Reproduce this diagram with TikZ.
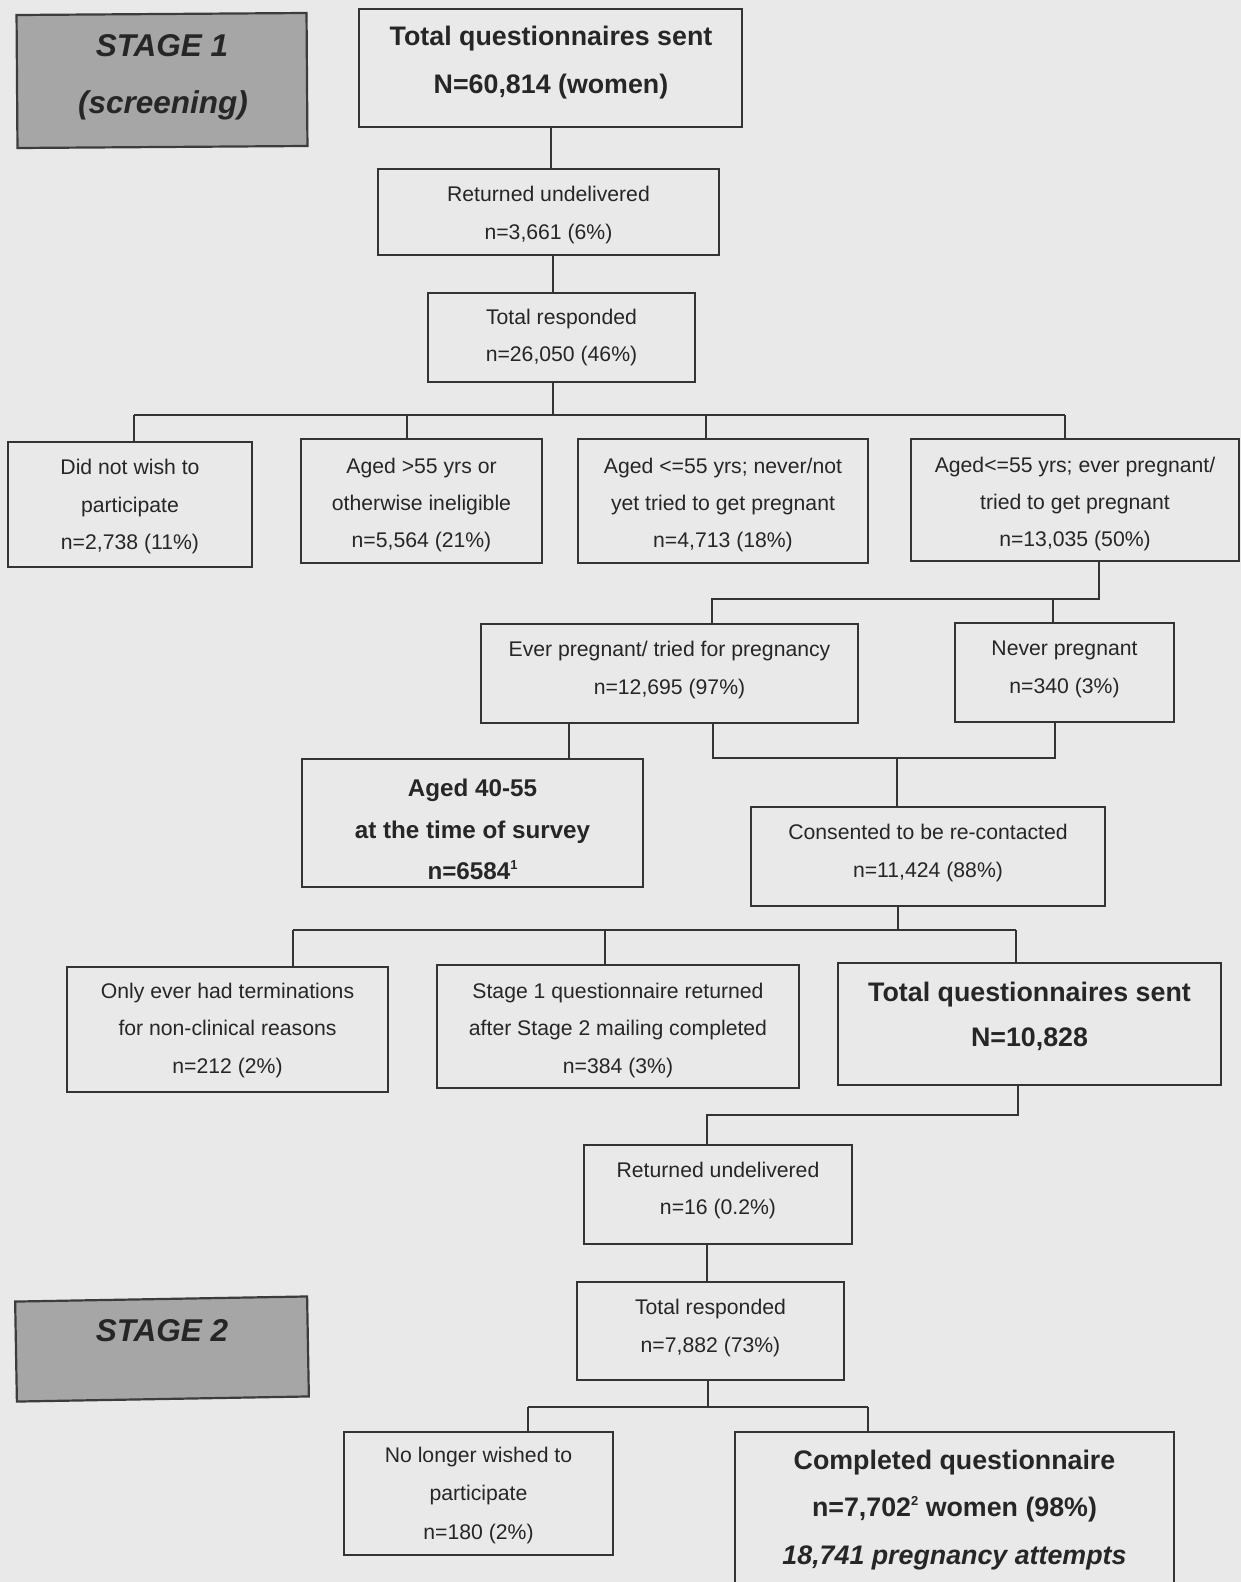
\documentclass[tikz,border=0pt]{standalone}
\usepackage{fontspec}
\setmainfont{Liberation Sans}
\definecolor{paper}{RGB}{233,233,233}
\definecolor{linec}{RGB}{52,52,52}
\definecolor{ink}{RGB}{38,38,38}
\definecolor{stagefill}{RGB}{166,166,166}
\definecolor{stageedge}{RGB}{60,60,60}
\newcommand{\supnum}[1]{\raisebox{0.42em}{\fontsize{13}{13}\selectfont #1}}
\begin{document}
\begin{tikzpicture}[x=1pt,y=-1pt,
  box/.style={draw=linec, line width=2.2pt, rectangle, inner sep=0pt, outer sep=0pt},
  stagebox/.style={box, fill=stagefill, draw=stageedge},
  link/.style={draw=linec, line width=2.2pt},
  txt/.style={inner sep=0pt, text=ink, text height=15.3pt, text depth=0pt, font=\fontsize{21.2}{25}\selectfont},
  big/.style={txt, text height=19.3pt, font=\fontsize{26.8}{32}\selectfont\bfseries},
  mid/.style={txt, text height=17.4pt, font=\fontsize{24.2}{29}\selectfont\bfseries},
  stg/.style={txt, text height=22.7pt, font=\fontsize{31.5}{38}\selectfont\bfseries\itshape},
]
\fill[paper] (0,0) rectangle (1241,1582);
\useasboundingbox (0,0) rectangle (1241,1582);
\clip (0,0) rectangle (1241,1582);

% ---- stage labels
\node[stagebox, rotate=0.4, minimum width=290pt, minimum height=133pt] (stageA) at (162,80.5) {};
\node[stg] (stageAt1) at (162,45) {STAGE 1};
\node[stg] (stageAt2) at (163,102) {(screening)};

\node[stagebox, rotate=1.0, minimum width=292pt, minimum height=100pt] (stageB) at (162,1349) {};
\node[stg] (stageBt) at (162,1330) {STAGE 2};

% ---- boxes
\node[box, minimum width=383pt, minimum height=118pt] (top) at (550.5,68) {};
\node[box, minimum width=341pt, minimum height=86pt] (ret1) at (548.5,212) {};
\node[box, minimum width=267pt, minimum height=89pt] (resp1) at (561.5,337.5) {};
\node[box, minimum width=244pt, minimum height=125pt] (c1) at (130,504.5) {};
\node[box, minimum width=241pt, minimum height=124pt] (c2) at (421.5,501) {};
\node[box, minimum width=290pt, minimum height=124pt] (c3) at (723,501) {};
\node[box, minimum width=328pt, minimum height=122pt] (c4) at (1075,500) {};
\node[box, minimum width=377pt, minimum height=99pt] (ever) at (669.5,673.5) {};
\node[box, minimum width=219pt, minimum height=99pt] (never) at (1064.5,672.5) {};
\node[box, minimum width=341pt, minimum height=128pt] (aged) at (472.5,823) {};
\node[box, minimum width=354pt, minimum height=99pt] (cons) at (928,856.5) {};
\node[box, minimum width=321pt, minimum height=125pt] (d1) at (227.5,1029.5) {};
\node[box, minimum width=362pt, minimum height=123pt] (d2) at (618,1026.5) {};
\node[box, minimum width=383pt, minimum height=122pt] (tq2) at (1029.5,1024) {};
\node[box, minimum width=268pt, minimum height=99pt] (ret2) at (718,1194.5) {};
\node[box, minimum width=267pt, minimum height=98pt] (resp2) at (710.5,1331) {};
\node[box, minimum width=269pt, minimum height=123pt] (nolong) at (478.5,1493.5) {};
\node[box, minimum width=439pt, minimum height=200pt] (comp) at (954.5,1532) {};

% ---- texts
\node[big] at (551,36) {Total questionnaires sent};
\node[big] at (551,84) {N=60,814 (women)};
\node[txt] at (548.5,194) {Returned undelivered};
\node[txt] at (548.5,232) {n=3,661 (6\%)};
\node[txt] at (561.5,317) {Total responded};
\node[txt] at (561.5,354) {n=26,050 (46\%)};
\node[txt] at (130,467) {Did not wish to};
\node[txt] at (130,505) {participate};
\node[txt] at (130,542) {n=2,738 (11\%)};
\node[txt] at (421.5,466) {Aged >55 yrs or};
\node[txt] at (421.5,503) {otherwise ineligible};
\node[txt] at (421.5,540) {n=5,564 (21\%)};
\node[txt] at (723,466) {Aged <=55 yrs; never/not};
\node[txt] at (723,503) {yet tried to get pregnant};
\node[txt] at (723,540) {n=4,713 (18\%)};
\node[txt] at (1075,465) {Aged<=55 yrs; ever pregnant/};
\node[txt] at (1075,502) {tried to get pregnant};
\node[txt] at (1075,539) {n=13,035 (50\%)};
\node[txt] at (669.5,649) {Ever pregnant/ tried for pregnancy};
\node[txt] at (669.5,687) {n=12,695 (97\%)};
\node[txt] at (1064.5,648) {Never pregnant};
\node[txt] at (1064.5,686) {n=340 (3\%)};
\node[mid] at (472.5,788) {Aged 40-55};
\node[mid] at (472.5,830) {at the time of survey};
\node[mid] at (472.5,871) {n=6584\supnum{1}};
\node[txt] at (928,832) {Consented to be re-contacted};
\node[txt] at (928,870) {n=11,424 (88\%)};
\node[txt] at (227.5,991) {Only ever had terminations};
\node[txt] at (227.5,1028) {for non-clinical reasons};
\node[txt] at (227.5,1066) {n=212 (2\%)};
\node[txt] at (618,991) {Stage 1 questionnaire returned};
\node[txt] at (618,1028) {after Stage 2 mailing completed};
\node[txt] at (618,1066) {n=384 (3\%)};
\node[big] at (1029.5,992) {Total questionnaires sent};
\node[big] at (1029.5,1037) {N=10,828};
\node[txt] at (718,1170) {Returned undelivered};
\node[txt] at (718,1207) {n=16 (0.2\%)};
\node[txt] at (710.5,1307) {Total responded};
\node[txt] at (710.5,1345) {n=7,882 (73\%)};
\node[txt] at (478.5,1455) {No longer wished to};
\node[txt] at (478.5,1493) {participate};
\node[txt] at (478.5,1532) {n=180 (2\%)};
\node[big] at (954.5,1460) {Completed questionnaire};
\node[big] at (954.5,1507) {n=7,702\supnum{2} women (98\%)};
\node[big, font=\fontsize{26.8}{32}\selectfont\bfseries\itshape] at (954.5,1555) {18,741 pregnancy attempts};

% ---- connectors
\coordinate (k0) at (551,0);
\draw[link] (top.south -| k0) -- (ret1.north -| k0);
\coordinate (k1) at (553,0);
\draw[link] (ret1.south -| k1) -- (resp1.north -| k1);

% first split
\coordinate (b1) at (553,415);
\coordinate (b1l) at (134,415);
\coordinate (b1a) at (407,415);
\coordinate (b1b) at (706,415);
\coordinate (b1r) at (1065,415);
\draw[link] (resp1.south -| b1) -- (b1);
\draw[link] (b1l) -- (b1r);
\draw[link] (b1l) -- (c1.north -| b1l);
\draw[link] (b1a) -- (c2.north -| b1a);
\draw[link] (b1b) -- (c3.north -| b1b);
\draw[link] (b1r) -- (c4.north -| b1r);

% split of the ever-pregnant branch
\coordinate (b2r) at (1099,599);
\coordinate (b2l) at (712,599);
\coordinate (b2n) at (1053,599);
\draw[link] (c4.south -| b2r) -- (b2r) -- (b2l) -- (ever.north -| b2l);
\draw[link] (b2n) -- (never.north -| b2n);

% aged 40-55
\coordinate (k2) at (569,0);
\draw[link] (ever.south -| k2) -- (aged.north -| k2);

% merge into consent
\coordinate (b3l) at (713,758);
\coordinate (b3r) at (1055,758);
\coordinate (b3m) at (897,758);
\draw[link] (ever.south -| b3l) -- (b3l) -- (b3r) -- (never.south -| b3r);
\draw[link] (b3m) -- (cons.north -| b3m);

% second split
\coordinate (b4) at (898,930);
\coordinate (b4l) at (293,930);
\coordinate (b4a) at (605,930);
\coordinate (b4r) at (1016,930);
\draw[link] (cons.south -| b4) -- (b4);
\draw[link] (b4l) -- (b4r);
\draw[link] (b4l) -- (d1.north -| b4l);
\draw[link] (b4a) -- (d2.north -| b4a);
\draw[link] (b4r) -- (tq2.north -| b4r);

% stage 2 chain
\coordinate (b5r) at (1018,1115);
\coordinate (b5l) at (707,1115);
\draw[link] (tq2.south -| b5r) -- (b5r) -- (b5l) -- (ret2.north -| b5l);
\draw[link] (ret2.south -| b5l) -- (resp2.north -| b5l);

% final split
\coordinate (b6) at (708,1407);
\coordinate (b6l) at (528,1407);
\coordinate (b6r) at (868,1407);
\draw[link] (resp2.south -| b6) -- (b6);
\draw[link] (b6l) -- (b6r);
\draw[link] (b6l) -- (nolong.north -| b6l);
\draw[link] (b6r) -- (comp.north -| b6r);
\end{tikzpicture}
\end{document}
